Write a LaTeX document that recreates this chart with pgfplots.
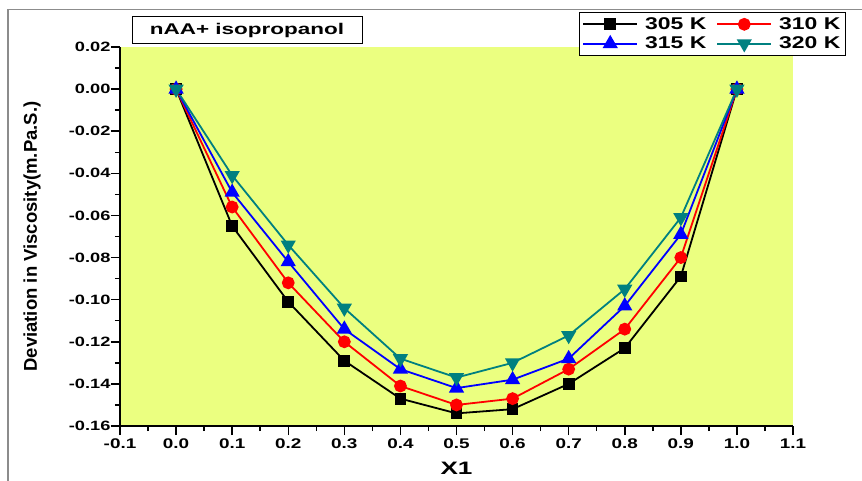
\documentclass[border=0pt]{standalone}
\usepackage{fontspec}
\setmainfont{Liberation Sans}
\newfontfamily\wide[FakeStretch=1.35]{Liberation Sans}
\newfontfamily\wider[FakeStretch=1.45]{Liberation Sans}
\usepackage{pgfplots}
\pgfplotsset{compat=1.18}
\definecolor{bgyel}{RGB}{235,255,128}
\definecolor{tealc}{RGB}{0,128,128}

\begin{document}
\begin{tikzpicture}
\path[use as bounding box] (0pt,0pt) rectangle (862pt,-481pt);
\draw[black!45, line width=1.2pt] (8pt,-481pt) -- (8pt,-9.5pt) -- (862pt,-9.5pt);
\begin{axis}[
    at={(120pt,-426pt)}, anchor=south west,
    width=673pt, height=379pt, scale only axis,
    xmin=-0.1, xmax=1.1, ymin=-0.16, ymax=0.02,
    xtick={-0.1,0,0.1,0.2,0.3,0.4,0.5,0.6,0.7,0.8,0.9,1.0,1.1},
    ytick={-0.16,-0.14,-0.12,-0.10,-0.08,-0.06,-0.04,-0.02,0,0.02},
    minor x tick num=1, minor y tick num=1,
    axis x line*=bottom, axis y line*=left,
    axis line style={line width=1.8pt, -},
    tick align=outside,
    major tick length=9pt, minor tick length=5pt,
    every tick/.style={black, line width=1.5pt},
    axis background/.style={fill=bgyel},
    /pgf/number format/assume math mode=true,
    x tick label style={font=\wide\bfseries\fontsize{14}{16}\selectfont,
        /pgf/number format/.cd, fixed, fixed zerofill, precision=1},
    y tick label style={font=\wide\bfseries\fontsize{13.5}{15}\selectfont,
        xshift=3pt,
        /pgf/number format/.cd, fixed, fixed zerofill, precision=2},
    xlabel={X1},
    ylabel={Deviation in Viscosity(m.Pa.S.)},
    xlabel style={font=\wider\bfseries\fontsize{18}{20}\selectfont,
        at={(axis description cs:0.5,-0.111)}, anchor=center},
    ylabel style={font=\bfseries\fontsize{18.5}{20}\selectfont,
        at={(axis description cs:-0.1308,0.5)}, anchor=center},
    legend columns=2,
    legend cell align=left,
    legend style={at={(1.0788,1.0923)}, anchor=north east,
        draw=black, line width=1.2pt, inner sep=3pt,
        font=\wide\bfseries\fontsize{17}{19}\selectfont,
        /tikz/every odd column/.append style={column sep=5pt},
        /tikz/every even column/.append style={column sep=8pt},
        row sep=2pt},
    legend image code/.code={\draw[mark repeat=2,mark phase=2]
        plot coordinates {(0pt,0pt) (27pt,0pt) (54pt,0pt)};},
]
\addplot[black, line width=1.8pt, mark=square*, mark size=5pt] coordinates {
    (0,0) (0.1,-0.065) (0.2,-0.101) (0.3,-0.129) (0.4,-0.147) (0.5,-0.154)
    (0.6,-0.152) (0.7,-0.140) (0.8,-0.123) (0.9,-0.089) (1.0,0)
};
\addplot[red, line width=1.8pt, mark=*, mark size=5.5pt] coordinates {
    (0,0) (0.1,-0.056) (0.2,-0.092) (0.3,-0.120) (0.4,-0.141) (0.5,-0.150)
    (0.6,-0.147) (0.7,-0.133) (0.8,-0.114) (0.9,-0.080) (1.0,0)
};
\addplot[blue, line width=1.8pt, mark=triangle*, mark size=7pt] coordinates {
    (0,0) (0.1,-0.049) (0.2,-0.082) (0.3,-0.114) (0.4,-0.133) (0.5,-0.142)
    (0.6,-0.138) (0.7,-0.128) (0.8,-0.103) (0.9,-0.069) (1.0,0)
};
\addplot[tealc, line width=1.8pt, mark=triangle*, mark size=7pt,
    mark options={rotate=180}] coordinates {
    (0,0) (0.1,-0.041) (0.2,-0.074) (0.3,-0.104) (0.4,-0.128) (0.5,-0.137)
    (0.6,-0.130) (0.7,-0.117) (0.8,-0.095) (0.9,-0.061) (1.0,0)
};
\legend{305 K, 310 K, 315 K, 320 K}
\end{axis}
\node[draw=black, line width=1pt, minimum width=230pt, minimum height=27pt,
    inner sep=0pt, font=\wider\bfseries\fontsize{15.5}{17}\selectfont]
    at (247pt,-30.5pt) {nAA+ isopropanol};
\end{tikzpicture}
\end{document}
